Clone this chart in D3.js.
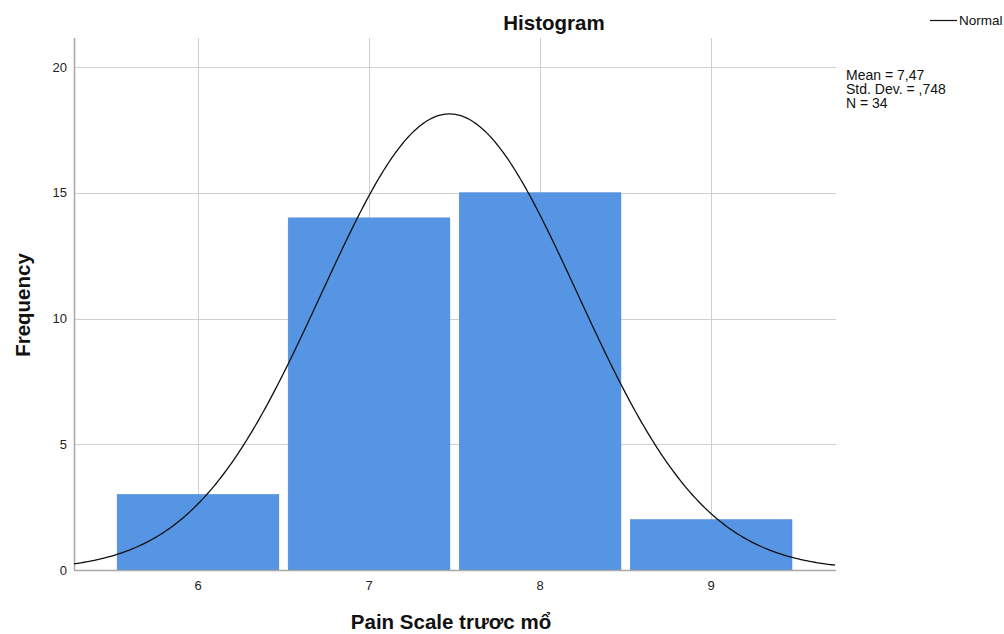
<!DOCTYPE html>
<html>
<head>
<meta charset="utf-8">
<script src="https://cdn.jsdelivr.net/npm/d3@7"></script>
<style>
  html, body { margin: 0; padding: 0; background: #fff; }
  svg { display: block; font-family: "Liberation Sans", Arial, sans-serif; }
</style>
</head>
<body>
<svg id="chart" width="1004" height="634"></svg>
<script>
// Histogram bins (integer pain scores) and their counts
const binCenters = [6, 7, 8, 9];
const frequencies = [3, 14, 15, 2];
const yTicks = [0, 5, 10, 15, 20];

// Summary statistics shown beside the plot; the fitted normal curve uses them
const statMean = 7.47;
const statSd = 0.748;
const statN = 34;
const statLabels = ["Mean = 7,47", "Std. Dev. = ,748", "N = 34"];

const svg = d3.select("#chart");
const plot = { left: 74, right: 836, top: 38, bottom: 570 };

const x = d3.scaleLinear().domain([5.275, 9.73]).range([plot.left, plot.right]);
const y = d3.scaleLinear().domain([0, 20]).range([plot.bottom, 67]);

// Gridlines
const grid = svg.append("g").attr("stroke", "#cfcfcf").attr("stroke-width", 1);
grid.selectAll("line.v").data(binCenters).join("line")
  .attr("x1", d => Math.round(x(d)) + 0.5).attr("x2", d => Math.round(x(d)) + 0.5)
  .attr("y1", plot.top).attr("y2", plot.bottom);
grid.selectAll("line.h").data(yTicks.filter(d => d > 0)).join("line")
  .attr("x1", plot.left).attr("x2", plot.right)
  .attr("y1", d => Math.round(y(d)) + 0.5).attr("y2", d => Math.round(y(d)) + 0.5);

// Bars
const binWidth = 1;
const gap = 0.055;
svg.append("g").selectAll("rect").data(binCenters).join("rect")
  .attr("x", d => x(d - binWidth / 2 + gap / 2))
  .attr("width", (d) => x(d + binWidth / 2 - gap / 2) - x(d - binWidth / 2 + gap / 2))
  .attr("y", (d, i) => y(frequencies[i]))
  .attr("height", (d, i) => y(0) - y(frequencies[i]))
  .attr("fill", "#5595e4")
  .attr("stroke", "#4a86d2")
  .attr("stroke-width", 0.6);

// Axes lines
svg.append("line")
  .attr("x1", plot.left + 0.5).attr("x2", plot.left + 0.5)
  .attr("y1", plot.top).attr("y2", plot.bottom + 0.5)
  .attr("stroke", "#a8a8a8").attr("stroke-width", 1.5);
svg.append("line")
  .attr("x1", plot.left).attr("x2", plot.right)
  .attr("y1", plot.bottom + 0.5).attr("y2", plot.bottom + 0.5)
  .attr("stroke", "#a8a8a8").attr("stroke-width", 1.5);

// Tick labels
svg.append("g").selectAll("text").data(yTicks).join("text")
  .attr("x", 67).attr("y", d => y(d) + 4.5)
  .attr("text-anchor", "end").attr("font-size", 13).attr("fill", "#222")
  .text(d => d);
svg.append("g").selectAll("text").data(binCenters).join("text")
  .attr("x", d => x(d)).attr("y", 590)
  .attr("text-anchor", "middle").attr("font-size", 13).attr("fill", "#222")
  .text(d => d);

// Fitted normal curve scaled to counts per bin
const pdf = v => Math.exp(-0.5 * ((v - statMean) / statSd) ** 2) / (statSd * Math.sqrt(2 * Math.PI));
const xs = d3.range(x.domain()[0], x.domain()[1] + 1e-9, 0.01);
const line = d3.line().x(v => x(v)).y(v => y(statN * binWidth * pdf(v))).curve(d3.curveLinear);
svg.append("path").datum(xs)
  .attr("d", line).attr("fill", "none")
  .attr("stroke", "#111").attr("stroke-width", 1.3);

// Titles
svg.append("text").attr("x", 554).attr("y", 30)
  .attr("text-anchor", "middle").attr("font-size", 20.5).attr("font-weight", "bold").attr("fill", "#111")
  .text("Histogram");
svg.append("text").attr("x", 451).attr("y", 629)
  .attr("text-anchor", "middle").attr("font-size", 20.5).attr("font-weight", "bold").attr("fill", "#111")
  .text("Pain Scale trươc mổ");
svg.append("text").attr("transform", "translate(30,305) rotate(-90)")
  .attr("text-anchor", "middle").attr("font-size", 20.5).attr("font-weight", "bold").attr("fill", "#111")
  .text("Frequency");

// Legend
svg.append("line").attr("x1", 930).attr("x2", 957).attr("y1", 20.5).attr("y2", 20.5)
  .attr("stroke", "#111").attr("stroke-width", 1.2);
svg.append("text").attr("x", 959).attr("y", 25)
  .attr("font-size", 13.5).attr("fill", "#111").text("Normal");

// Statistics block
svg.append("g").selectAll("text").data(statLabels).join("text")
  .attr("x", 846).attr("y", (d, i) => 80 + i * 14.2)
  .attr("font-size", 14).attr("fill", "#111")
  .text(d => d);
</script>
</body>
</html>
